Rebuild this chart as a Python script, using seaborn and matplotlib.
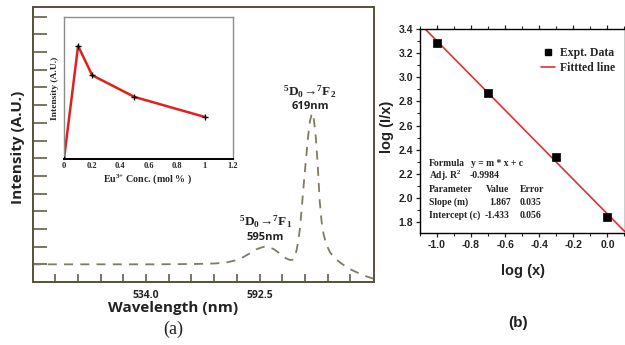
import numpy as np
import pandas as pd
import matplotlib
matplotlib.use("Agg")
import matplotlib.pyplot as plt
from matplotlib.ticker import FixedLocator, MultipleLocator, NullFormatter
from matplotlib.lines import Line2D
import seaborn as sns

# ---------------- data ----------------
# (a) emission spectrum
wavelength = [475, 500, 520, 540, 560, 570, 576, 580, 584, 588, 591, 594, 595.5,
              597, 600, 603, 606, 608, 609.5, 611, 612.5, 613.5, 614.5, 615.5,
              616.5, 617.5, 618.5, 619.5, 620.5, 621.5, 622.5, 623.5, 624.5,
              625.5, 627, 629, 631, 634, 637, 640, 644, 648, 651.5]
intensity = [1.0, 1.0, 1.0, 1.0, 1.02, 1.05, 1.12, 1.22, 1.4, 1.65, 1.85, 1.97, 2.0,
             1.98, 1.85, 1.6, 1.35, 1.25, 1.25, 1.5, 2.3, 3.2, 4.5, 5.8,
             7.0, 8.2, 9.1, 9.55, 9.2, 8.2, 6.6, 4.6, 3.4,
             2.7, 2.1, 1.65, 1.38, 1.1, 0.88, 0.68, 0.48, 0.3, 0.18]
wl_ticks = [487.2, 498.9, 510.6, 522.3, 534.0, 545.7, 557.4, 569.1, 580.8,
            592.5, 604.2, 615.9, 627.6, 639.3]
wl_tick_labels = ["", "", "", "", "534.0", "", "", "", "", "592.5", "", "", "", ""]

# inset: intensity vs Eu3+ concentration
conc = [0.0, 0.1, 0.2, 0.5, 1.0]
conc_int = [0.0, 7.96, 5.9, 4.37, 2.96]

# (b) log(I/x) vs log(x)
log_x = [-1.0, -0.699, -0.301, 0.0]
log_Ix = [3.28, 2.87, 2.34, 1.84]
fit_x = [-1.1, 0.1]
fit_y = [3.443, 1.724]

# ---------------- style ----------------
sns.set_theme(style="white")
plt.rcParams["font.family"] = ["Liberation Sans", "DejaVu Sans"]
plt.rcParams["mathtext.default"] = "regular"

W, H = 625, 345
fig = plt.figure(figsize=(W / 100, H / 100), dpi=100)
fig.patch.set_facecolor("white")

def box(l, t, r, b):
    return [l / W, (H - b) / H, (r - l) / W, (b - t) / H]

SERIF = ["Liberation Serif", "DejaVu Serif"]
SANS_A = ["Open Sans", "DejaVu Sans"]
spine_a = "#55513c"

# ---------------- panel (a) ----------------
axa = fig.add_axes(box(32.5, 7, 374, 282))
df_em = pd.DataFrame({"wl": wavelength, "I": intensity})
sns.lineplot(data=df_em, x="wl", y="I", ax=axa, color="#807a64", lw=1.3,
             linestyle=(0, (5, 4)), sort=False)
axa.set_xlim(475.5, 651.5)
axa.set_ylim(0, 15.55)
axa.set_xlabel("")
axa.set_ylabel("")
axa.xaxis.set_major_locator(FixedLocator(wl_ticks))
axa.set_xticklabels(wl_tick_labels, fontsize=7.5, fontweight="bold", family=SANS_A,
                    color="#222222")
axa.yaxis.set_major_locator(FixedLocator(list(range(1, 16))))
axa.yaxis.set_major_formatter(NullFormatter())
axa.tick_params(axis="x", direction="in", length=6, width=1.1, color=spine_a,
                bottom=True, pad=6)
axa.tick_params(axis="y", direction="in", length=10, width=1.1, color=spine_a,
                left=True)
for s in axa.spines.values():
    s.set_color(spine_a)
    s.set_linewidth(1.4)

axa.text(320, 14.0, r"$\lambda_{ex}$ = 273nm", fontsize=8, fontweight="bold",
         ha="center", va="center", family=SANS_A)
axa.text(618.5, 10.75, r"$^5$D$_0$$\!\rightarrow\!$$^7$F$_2$", fontsize=9.5,
         fontweight="bold", ha="center", va="center", family="Liberation Serif",
         color="#222222")
axa.text(618.5, 9.9, "619nm", fontsize=8, fontweight="bold", ha="center",
         va="center", family=SANS_A, color="#222222")
axa.text(595.5, 3.4, r"$^5$D$_0$$\!\rightarrow\!$$^7$F$_1$", fontsize=9.5,
         fontweight="bold", ha="center", va="center", family="Liberation Serif",
         color="#222222")
axa.text(595.5, 2.5, "595nm", fontsize=8, fontweight="bold", ha="center",
         va="center", family=SANS_A, color="#222222")

fig.text(18 / W, 1 - 147 / H, "Intensity (A.U.)", rotation=90, fontsize=11,
         fontweight="bold", family=SANS_A, ha="center", va="center", color="#222222")
fig.text(173 / W, 1 - 308 / H, "Wavelength (nm)", fontsize=11, fontweight="bold",
         family=SANS_A, ha="center", va="center", color="#222222")
fig.text(173 / W, 1 - 329 / H, "(a)", fontsize=13, family=SERIF,
         ha="center", va="center", color="#222222")

# inset
axi = fig.add_axes(box(64, 17, 233, 159))
df_in = pd.DataFrame({"c": conc, "I": conc_int})
sns.lineplot(data=df_in, x="c", y="I", ax=axi, color="#e0201c", lw=1.8)
sns.scatterplot(data=df_in, x="c", y="I", ax=axi, color="black", marker="+",
                s=18, linewidth=1.0, zorder=5)
axi.set_xlim(0, 1.2)
axi.set_ylim(0, 10)
axi.set_xlabel("")
axi.set_ylabel("")
axi.set_xticks([0, 0.2, 0.4, 0.6, 0.8, 1.0, 1.2])
axi.set_xticklabels(["0", "0.2", "0.4", "0.6", "0.8", "1", "1.2"], fontsize=6,
                    fontweight="bold", family=SERIF)
axi.set_yticks([])
axi.tick_params(axis="x", direction="in", length=2, pad=2)
for k, s in axi.spines.items():
    s.set_color("#8c8c8c")
    s.set_linewidth(1.0)
axi.spines["bottom"].set_color("black")
axi.spines["bottom"].set_linewidth(1.4)
fig.text(148 / W, 1 - 179 / H, r"Eu$^{3{+}}$ Conc. (mol % )", fontsize=7.2,
         fontweight="bold", family="Liberation Serif", ha="center", va="center")
fig.text(55 / W, 1 - 88 / H, "Intensity (A.U.)", rotation=90, fontsize=6.8,
         fontweight="bold", family=SERIF, ha="center", va="center")

# ---------------- panel (b) ----------------
axb = fig.add_axes(box(420, 29, 624.5, 233))
df_fit = pd.DataFrame({"x": fit_x, "y": fit_y})
df_pts = pd.DataFrame({"x": log_x, "y": log_Ix})
sns.lineplot(data=df_fit, x="x", y="y", ax=axb, color="#e2322f", lw=1.2)
sns.scatterplot(data=df_pts, x="x", y="y", ax=axb, color="black", marker="s",
                s=26, edgecolor="black", linewidth=0.5, zorder=5)
axb.set_xlim(-1.1, 0.1)
axb.set_ylim(1.71, 3.4)
axb.set_xlabel("")
axb.set_ylabel("")
axb.xaxis.set_major_locator(MultipleLocator(0.2))
axb.xaxis.set_minor_locator(MultipleLocator(0.1))
axb.yaxis.set_major_locator(FixedLocator([1.8, 2.0, 2.2, 2.4, 2.6, 2.8, 3.0, 3.2, 3.4]))
axb.yaxis.set_minor_locator(MultipleLocator(0.1))
axb.set_xticklabels([f"{v:.1f}" for v in axb.get_xticks()])
axb.set_yticklabels([f"{v:.1f}" for v in axb.get_yticks()])
for lab in axb.get_xticklabels() + axb.get_yticklabels():
    lab.set_fontsize(7.5)
    lab.set_fontweight("bold")
axb.tick_params(which="major", direction="out", length=3, width=0.9, bottom=True,
                left=True, pad=2, colors="#222222")
axb.tick_params(which="minor", direction="out", length=2, width=0.8, bottom=True,
                left=True)
axb.tick_params(which="both", top=True, right=True)
axb.tick_params(axis="x", which="both", labeltop=False)
for s in axb.spines.values():
    s.set_color("black")
    s.set_linewidth(1.0)

handles = [Line2D([], [], marker="s", color="black", linestyle="none", markersize=4),
           Line2D([], [], color="#e2322f", lw=1.2)]
leg = axb.legend(handles, ["Expt. Data", "Fittted line"], loc="upper left",
                 bbox_to_anchor=(0.55, 0.95), frameon=False, handlelength=1.2,
                 handletextpad=0.4, borderpad=0.2, labelspacing=0.25,
                 prop={"family": SERIF, "weight": "bold", "size": 8.5})

tx = lambda px: (px - 420) / 204.5
ty = lambda py: (233 - py) / 204
tkw = dict(transform=axb.transAxes, fontsize=6.9, fontweight="bold",
           family="Liberation Serif", va="center", ha="left", color="#222222")
axb.text(tx(429), ty(164), "Formula", **tkw)
axb.text(tx(471), ty(164), "y = m * x + c", **tkw)
axb.text(tx(429), ty(176), r"Adj. R$^2$", **tkw)
axb.text(tx(470), ty(176), "-0.9984", **tkw)
axb.text(tx(429), ty(189), "Parameter", **tkw)
axb.text(tx(486), ty(189), "Value", **tkw)
axb.text(tx(520), ty(189), "Error", **tkw)
axb.text(tx(429), ty(202), "Slope (m)", **tkw)
axb.text(tx(489), ty(202), "1.867", **tkw)
axb.text(tx(520), ty(202), "0.035", **tkw)
axb.text(tx(429), ty(215), "Intercept (c)", **tkw)
axb.text(tx(485), ty(215), "-1.433", **tkw)
axb.text(tx(520), ty(215), "0.056", **tkw)

fig.text(387 / W, 1 - 127 / H, "log (I/x)", rotation=90, fontsize=10.5,
         fontweight="bold", ha="center", va="center", color="#222222")
fig.text(523 / W, 1 - 271 / H, "log (x)", fontsize=10.5, fontweight="bold",
         ha="center", va="center", color="#222222")
fig.text(518 / W, 1 - 323 / H, "(b)", fontsize=11, fontweight="bold",
         ha="center", va="center", color="#222222")

fig.savefig("out.png", dpi=100, facecolor="white")
